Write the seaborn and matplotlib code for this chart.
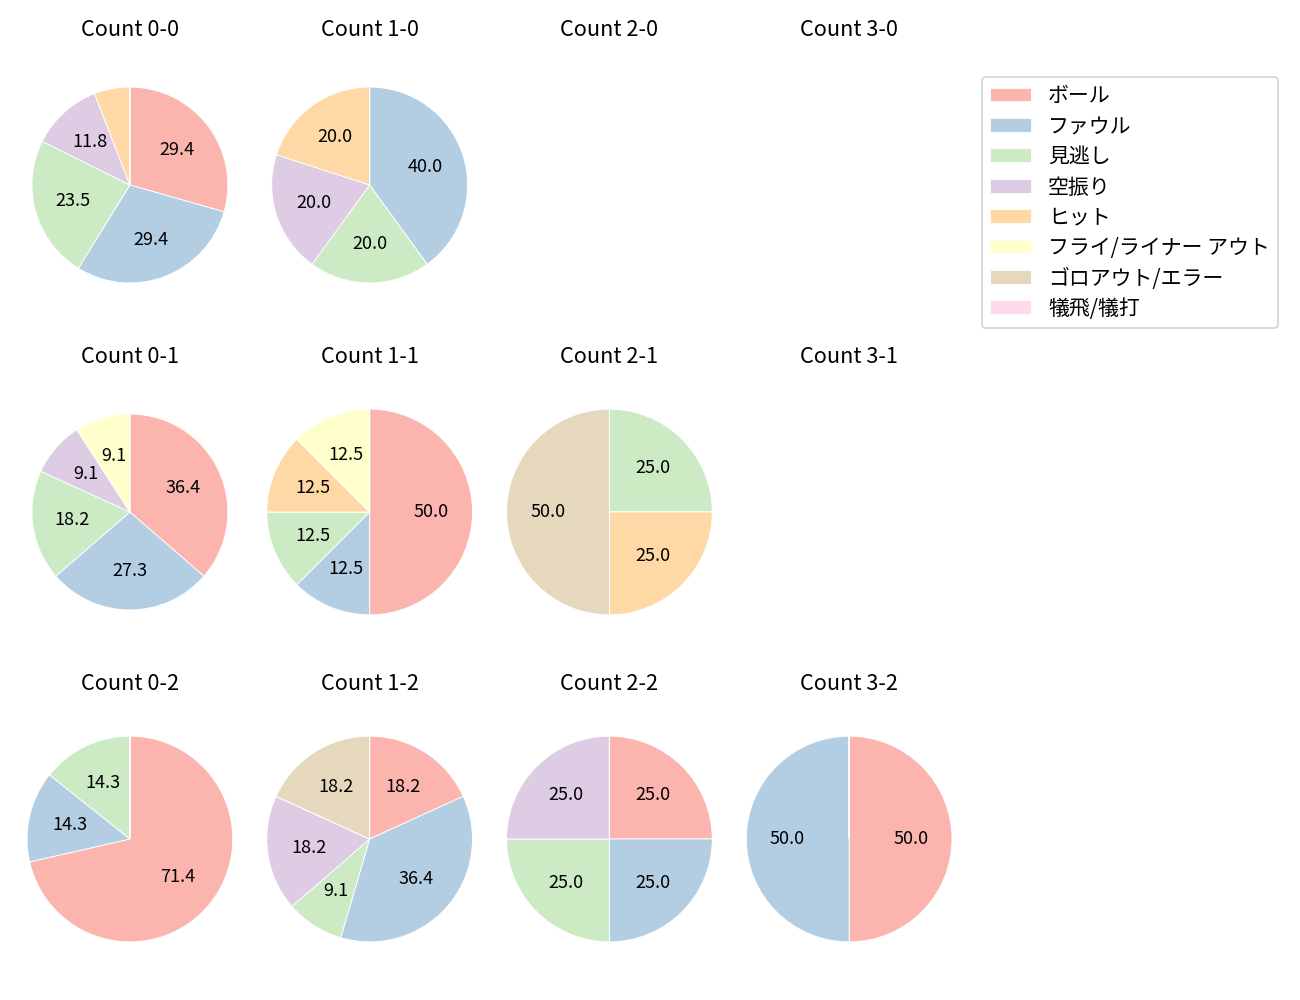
import matplotlib
matplotlib.use("Agg")
import matplotlib.pyplot as plt
import seaborn as sns
from matplotlib.patches import Patch

sns.set_theme(style="white")
plt.rcParams["font.family"] = ["Noto Sans CJK JP", "DejaVu Sans"]
plt.rcParams["text.color"] = "black"

# %% data
results = ["ボール", "ファウル", "見逃し", "空振り", "ヒット",
           "フライ/ライナー アウト", "ゴロアウト/エラー", "犠飛/犠打"]

counts = {
    "0-0": [5, 5, 4, 2, 1, 0, 0, 0],
    "1-0": [0, 2, 1, 1, 1, 0, 0, 0],
    "2-0": [0, 0, 0, 0, 0, 0, 0, 0],
    "3-0": [0, 0, 0, 0, 0, 0, 0, 0],
    "0-1": [4, 3, 2, 1, 0, 1, 0, 0],
    "1-1": [4, 1, 1, 0, 1, 1, 0, 0],
    "2-1": [0, 0, 1, 0, 1, 0, 2, 0],
    "3-1": [0, 0, 0, 0, 0, 0, 0, 0],
    "0-2": [5, 1, 1, 0, 0, 0, 0, 0],
    "1-2": [2, 4, 1, 2, 0, 0, 2, 0],
    "2-2": [1, 1, 1, 1, 0, 0, 0, 0],
    "3-2": [1, 1, 0, 0, 0, 0, 0, 0],
}

colors = sns.color_palette("Pastel1", len(results))

# the first few pies come out a touch smaller in the original
small_pies = ["0-0", "1-0", "0-1"]

# %% plot
fig, axes = plt.subplots(3, 4, figsize=(10, 1000 / 130))
fig.subplots_adjust(left=0.0127, right=0.7404, top=0.953, bottom=0.023,
                    wspace=0.0573, hspace=0.185)

for ax, (name, vals) in zip(axes.flat, counts.items()):
    ax.set_title(f"Count {name}", fontsize=12)
    if sum(vals) > 0:
        ax.pie(vals, colors=colors, startangle=90, counterclock=False,
               radius=1.08 if name in small_pies else 1.134,
               autopct=lambda p: f"{p:.1f}" if p >= 8 else "",
               textprops={"fontsize": 10, "color": "black"},
               wedgeprops={"edgecolor": "white", "linewidth": 0.5})
        ax.set_aspect("equal", adjustable="datalim")
    ax.set_xticks([])
    ax.set_yticks([])
    ax.set_frame_on(False)

handles = [Patch(facecolor=c, label=r) for c, r in zip(colors, results)]
fig.legend(handles=handles, loc="upper left", bbox_to_anchor=(0.7554, 0.923),
           borderaxespad=0, fontsize=11.6, labelspacing=0.4,
           handletextpad=0.75, frameon=True, edgecolor="#cccccc")

fig.savefig("out.png", dpi=130)
